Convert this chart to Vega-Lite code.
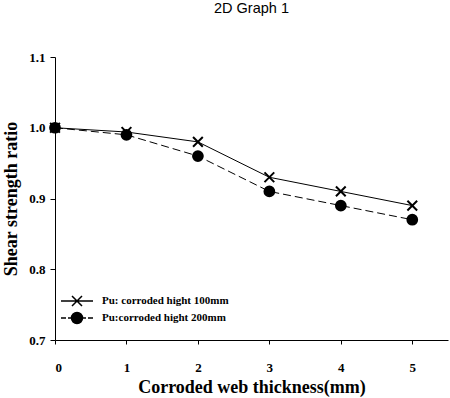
{
  "$schema": "https://vega.github.io/schema/vega-lite/v6.json",
  "autosize": "none",
  "width": 393,
  "height": 283,
  "padding": {"left": 55, "top": 57, "right": 2, "bottom": 58},
  "background": "white",
  "title": {"text": "2D Graph 1", "font": "Liberation Sans", "fontSize": 14.5, "fontWeight": "normal", "color": "black", "anchor": "middle", "offset": 35},
  "config": {"view": {"stroke": null}},
  "resolve": {"scale": {"shape": "independent"}, "legend": {"shape": "independent"}},
  "data": {"values": [
    {"t": 0, "r": 1.0, "s": "Pu: corroded hight 100mm"},
    {"t": 1, "r": 0.994, "s": "Pu: corroded hight 100mm"},
    {"t": 2, "r": 0.98, "s": "Pu: corroded hight 100mm"},
    {"t": 3, "r": 0.93, "s": "Pu: corroded hight 100mm"},
    {"t": 4, "r": 0.91, "s": "Pu: corroded hight 100mm"},
    {"t": 5, "r": 0.89, "s": "Pu: corroded hight 100mm"},
    {"t": 0, "r": 1.0, "s": "Pu:corroded hight 200mm"},
    {"t": 1, "r": 0.99, "s": "Pu:corroded hight 200mm"},
    {"t": 2, "r": 0.96, "s": "Pu:corroded hight 200mm"},
    {"t": 3, "r": 0.91, "s": "Pu:corroded hight 200mm"},
    {"t": 4, "r": 0.89, "s": "Pu:corroded hight 200mm"},
    {"t": 5, "r": 0.87, "s": "Pu:corroded hight 200mm"}
  ]},
  "encoding": {
    "x": {"field": "t", "type": "quantitative", "scale": {"domain": [0, 5.5], "nice": false},
      "axis": {"title": "Corroded web thickness(mm)", "values": [0,1,2,3,4,5], "grid": false, "domainColor": "black", "tickColor": "black", "tickSize": 4, "labelPadding": 17, "labelFont": "Liberation Serif", "labelFontSize": 13, "labelFontWeight": "bold", "labelColor": "black", "titleFont": "Liberation Serif", "titleFontSize": 18, "titleFontWeight": "bold", "titleColor": "black", "titlePadding": 4}},
    "y": {"field": "r", "type": "quantitative", "scale": {"domain": [0.7, 1.1], "nice": false, "zero": false},
      "axis": {"title": "Shear strength ratio", "values": [0.7,0.8,0.9,1.0,1.1], "format": ".1f", "grid": false, "domainColor": "black", "tickColor": "black", "tickSize": 5, "labelPadding": 5, "labelFont": "Liberation Serif", "labelFontSize": 13, "labelFontWeight": "bold", "labelColor": "black", "titleFont": "Liberation Serif", "titleFontSize": 18, "titleFontWeight": "bold", "titleColor": "black", "titlePadding": 8}}
  },
  "layer": [
    {
      "transform": [{"filter": "indexof(datum.s, '100mm') >= 0"}],
      "mark": {"type": "line", "color": "black", "strokeWidth": 1},
      "encoding": {}
    },
    {
      "transform": [{"filter": "indexof(datum.s, '200mm') >= 0"}],
      "mark": {"type": "line", "color": "black", "strokeWidth": 1, "strokeDash": [8, 4]},
      "encoding": {}
    },
    {
      "mark": {"type": "point", "filled": true, "color": "black", "stroke": "black", "strokeWidth": 2, "size": 95, "opacity": 1},
      "encoding": {
        "shape": {"field": "s", "type": "nominal", "scale": {"domain": ["Pu: corroded hight 100mm", "Pu:corroded hight 200mm"], "range": ["M-1,-1L1,1M-1,1L1,-1", "circle"]}, "legend": null}
      }
    },
    {
      "transform": [{"filter": "datum.t < 0"}],
      "mark": {"type": "point", "filled": true, "color": "black", "stroke": "black", "strokeWidth": 1.8, "size": 100, "opacity": 1},
      "encoding": {
        "shape": {"field": "s", "type": "nominal", "scale": {"domain": ["Pu: corroded hight 100mm", "Pu:corroded hight 200mm"], "range": ["M-3.2,0H3.2M-1,-1L1,1M-1,1L1,-1", "M-3.2,0H-2.2M-1.8,0H-1.1M1.1,0H1.8M2.2,0H3.2M-1.1,0A1.1,1.1 0 1,0 1.1,0A1.1,1.1 0 1,0 -1.1,0Z"]},
          "legend": {"title": null, "orient": "bottom-left", "offset": 13, "padding": 0, "symbolSize": 100, "symbolOffset": 3, "labelOffset": 19, "rowPadding": 0, "labelFont": "Liberation Serif", "labelFontSize": 11, "labelFontWeight": "bold", "labelColor": "black",
            "encode": {"symbols": {"update": {"stroke": {"value": "black"}, "fill": {"value": "black"}, "strokeWidth": {"value": 1.8}}}}}
        }
      }
    }
  ]
}
